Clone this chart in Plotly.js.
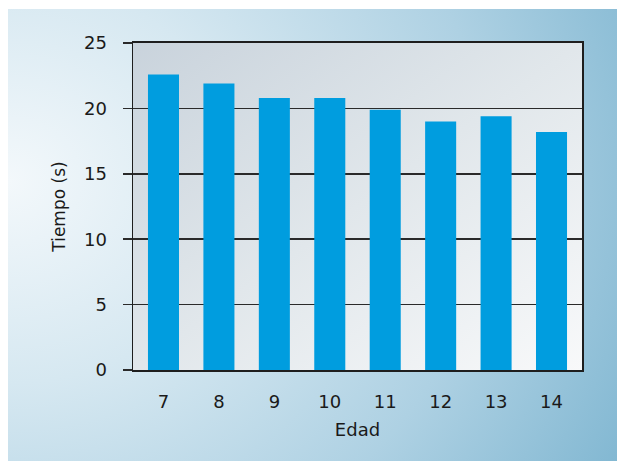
<!DOCTYPE html>
<html>
<head>
<meta charset="utf-8">
<script src="https://cdn.plot.ly/plotly-3.0.1.min.js"></script>
<style>
  html, body { margin: 0; padding: 0; background: #ffffff; }
  #wrap { position: relative; width: 617px; height: 461px; overflow: hidden; }
  #panel {
    position: absolute; left: 8px; top: 9px; width: 609px; height: 452px;
    background: radial-gradient(ellipse 120% 140% at 0% 38%, #f3f8fb 0%, #d6e8f1 32%, #aed1e3 66%, #7ab3cf 100%);
  }
  #chart { position: absolute; left: 0; top: 0; width: 617px; height: 461px; }
</style>
</head>
<body>
<div id="wrap">
  <div id="panel"></div>
  <div id="chart"></div>
</div>
<script>
// Edad (años) y tiempo medio (s)
const edades = ['7', '8', '9', '10', '11', '12', '13', '14'];
const tiempos = [22.6, 21.9, 20.8, 20.8, 19.9, 19.0, 19.4, 18.2];
const yTicks = [0, 5, 10, 15, 20, 25];

// Soft grey-to-white fill for the plotting area
const plotFill = 'data:image/svg+xml;utf8,' + encodeURIComponent(
  '<svg xmlns="http://www.w3.org/2000/svg" width="100" height="100" preserveAspectRatio="none">' +
  '<defs><linearGradient id="g" x1="0" y1="0" x2="1" y2="1">' +
  '<stop offset="0" stop-color="#c9d3dc"/>' +
  '<stop offset="0.5" stop-color="#e1e7eb"/>' +
  '<stop offset="1" stop-color="#f8f9fa"/>' +
  '</linearGradient></defs>' +
  '<rect width="100" height="100" fill="url(#g)"/></svg>');

const font = 'DejaVu Sans, Liberation Sans, sans-serif';

const data = [{
  type: 'bar',
  x: edades,
  y: tiempos,
  width: 0.56,
  marker: { color: '#009ddf', line: { width: 0 } },
  hoverinfo: 'x+y'
}];

const layout = {
  width: 617,
  height: 461,
  margin: { l: 133, r: 35, t: 43, b: 91 },
  paper_bgcolor: 'rgba(0,0,0,0)',
  plot_bgcolor: 'rgba(0,0,0,0)',
  showlegend: false,
  font: { family: font, color: '#1a1a1a', size: 18 },
  images: [{
    source: plotFill,
    xref: 'paper', yref: 'paper',
    x: 0, y: 1, sizex: 1, sizey: 1,
    xanchor: 'left', yanchor: 'top',
    sizing: 'stretch', layer: 'below'
  }],
  xaxis: {
    type: 'category',
    range: [-0.55, 7.55],
    showgrid: false,
    ticks: '',
    ticklabelstandoff: 14,
    tickfont: { family: font, size: 18, color: '#1a1a1a' },
    showline: true, linecolor: '#1e1e1e', linewidth: 2, mirror: true,
    title: { text: 'Edad', font: { family: font, size: 18, color: '#1a1a1a' }, standoff: 13 },
    fixedrange: true
  },
  yaxis: {
    range: [0, 25],
    tickvals: yTicks,
    ticktext: yTicks.map(String),
    showgrid: true, gridcolor: '#2a2a2a', gridwidth: 1.5,
    zeroline: false,
    ticks: 'outside', ticklen: 9, tickwidth: 1.5, tickcolor: '#2a2a2a',
    ticklabelstandoff: 12,
    tickfont: { family: font, size: 18, color: '#1a1a1a' },
    showline: true, linecolor: '#1e1e1e', linewidth: 1.5, mirror: true,
    title: { text: 'Tiempo (s)', font: { family: font, size: 17, color: '#1a1a1a' }, standoff: 14 },
    fixedrange: true
  }
};

Plotly.newPlot('chart', data, layout, { displayModeBar: false, staticPlot: true });
</script>
</body>
</html>
